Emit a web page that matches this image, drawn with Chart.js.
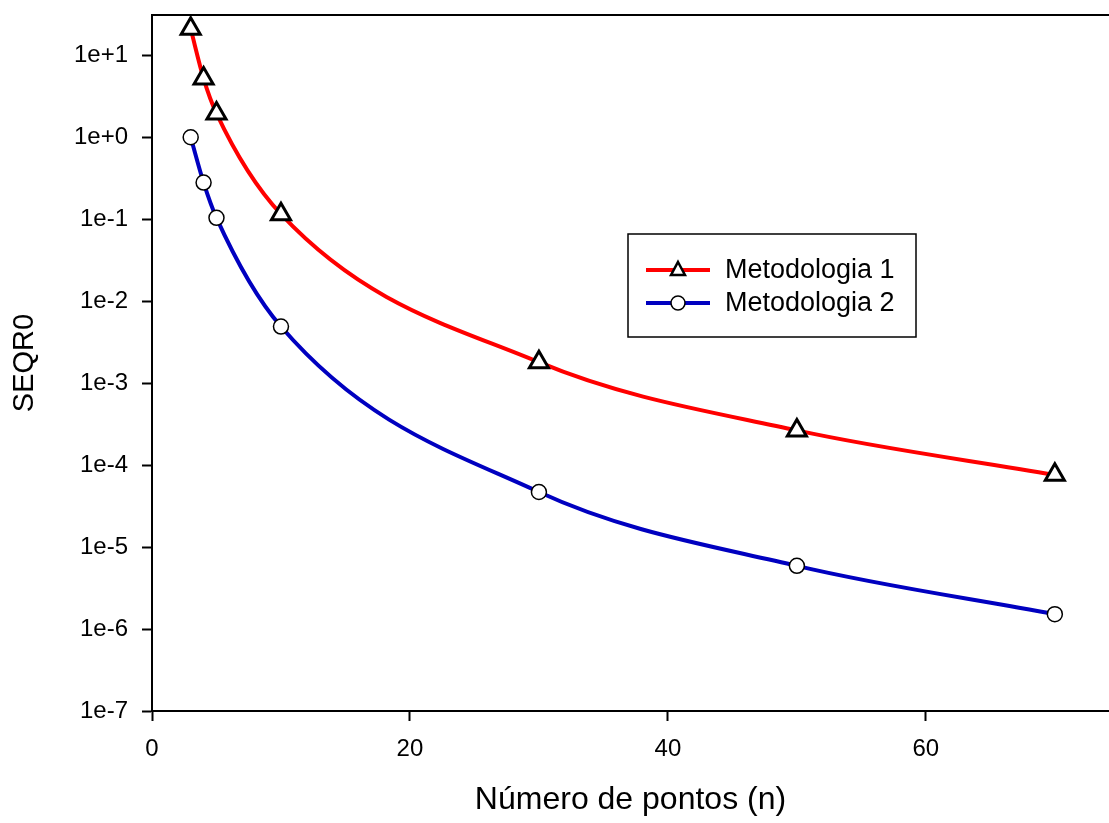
<!DOCTYPE html>
<html>
<head>
<meta charset="utf-8">
<script src="https://cdn.jsdelivr.net/npm/chart.js@4"></script>
<style>
  html, body { margin: 0; padding: 0; background: #fff; overflow: hidden; }
  canvas { display: block; }
</style>
</head>
<body>
<canvas id="chart" width="1109" height="823"></canvas>
<script>
const nPontos = [3, 4, 5, 10, 30, 50, 70];
const metodologia1 = [21, 5.2, 1.95, 0.115, 1.8e-3, 2.65e-4, 7.6e-5];
const metodologia2 = [1.0, 0.28, 0.104, 4.9e-3, 4.7e-5, 5.9e-6, 1.52e-6];
const yTicks = [1e-7, 1e-6, 1e-5, 1e-4, 1e-3, 1e-2, 1e-1, 1e0, 1e1];
const xTicks = [0, 20, 40, 60];

const fontFam = '"Liberation Sans", Arial, sans-serif';

// moldura superior + legenda dentro da área
const extras = {
  id: 'extras',
  afterDraw(chart) {
    const ctx = chart.ctx;
    const a = chart.chartArea;
    ctx.save();
    ctx.strokeStyle = '#000';
    ctx.lineWidth = 2;
    ctx.beginPath();
    ctx.moveTo(a.left, a.top);
    ctx.lineTo(a.right + 5, a.top);
    ctx.stroke();

    // legenda
    const bx = 628, by = 234, bw = 288, bh = 103;
    ctx.lineWidth = 1.5;
    ctx.strokeRect(bx, by, bw, bh);
    chart.data.datasets.forEach((ds, i) => {
      const y = 270 + i * 33;
      ctx.strokeStyle = ds.borderColor;
      ctx.lineWidth = 4;
      ctx.beginPath();
      ctx.moveTo(646, y);
      ctx.lineTo(710, y);
      ctx.stroke();
      ctx.fillStyle = '#fff';
      ctx.strokeStyle = '#000';
      ctx.beginPath();
      if (ds.pointStyle === 'triangle') {
        ctx.lineWidth = 2.5;
        const r = 8;
        ctx.moveTo(678, y - r);
        ctx.lineTo(678 + r * 0.87, y + r * 0.5 + 1);
        ctx.lineTo(678 - r * 0.87, y + r * 0.5 + 1);
        ctx.closePath();
      } else {
        ctx.lineWidth = 1.5;
        ctx.arc(678, y, 7, 0, Math.PI * 2);
      }
      ctx.fill();
      ctx.stroke();
      ctx.fillStyle = '#000';
      ctx.font = '27px ' + fontFam;
      ctx.textBaseline = 'middle';
      ctx.fillText(ds.label, 725, y + 1);
    });
    ctx.restore();
  }
};

new Chart(document.getElementById('chart'), {
  type: 'line',
  data: {
    labels: nPontos,
    datasets: [
      {
        label: 'Metodologia 1',
        data: nPontos.map((x, i) => ({ x: x, y: metodologia1[i] })),
        borderColor: '#ff0000',
        borderWidth: 4,
        pointStyle: 'triangle',
        pointRadius: 11,
        pointBorderWidth: 3,
        pointBorderColor: '#000',
        pointBackgroundColor: '#fff',
        cubicInterpolationMode: 'monotone',
        clip: false
      },
      {
        label: 'Metodologia 2',
        data: nPontos.map((x, i) => ({ x: x, y: metodologia2[i] })),
        borderColor: '#0000c0',
        borderWidth: 4,
        pointStyle: 'circle',
        pointRadius: 7.5,
        pointBorderWidth: 1.5,
        pointBorderColor: '#000',
        pointBackgroundColor: '#fff',
        cubicInterpolationMode: 'monotone',
        clip: false
      }
    ]
  },
  options: {
    responsive: false,
    animation: false,
    layout: { autoPadding: false, padding: { top: 15, right: 0, left: 0, bottom: 0 } },
    plugins: {
      legend: { display: false },
      tooltip: { enabled: false }
    },
    scales: {
      x: {
        type: 'linear',
        min: 0,
        max: 74.2,
        afterBuildTicks: s => { s.ticks = xTicks.map(v => ({ value: v })); },
        afterFit: s => { s.height = 112; s.paddingLeft = 0; s.paddingRight = 0; },
        grid: { drawOnChartArea: false, tickLength: 10, tickColor: '#000', tickWidth: 2 },
        border: { color: '#000', width: 2 },
        ticks: { color: '#000', font: { family: fontFam, size: 24 }, padding: 14, maxRotation: 0 },
        title: { display: true, text: 'Número de pontos (n)', color: '#000',
                 font: { family: fontFam, size: 32 }, padding: { top: 21 } }
      },
      y: {
        type: 'logarithmic',
        min: 1e-7,
        max: 31,
        afterBuildTicks: s => { s.ticks = yTicks.map(v => ({ value: v })); },
        afterFit: s => { s.width = 152; s.paddingTop = 0; s.paddingBottom = 0; },
        grid: { drawOnChartArea: false, tickLength: 10, tickColor: '#000', tickWidth: 2 },
        border: { color: '#000', width: 2 },
        ticks: { color: '#000', font: { family: fontFam, size: 24 }, padding: 14,
                 callback: v => Number(v).toExponential(0) },
        title: { display: true, text: 'SEQR0', color: '#000',
                 font: { family: fontFam, size: 29 }, padding: { top: 8, bottom: 0 } }
      }
    }
  },
  plugins: [extras]
});
</script>
</body>
</html>
